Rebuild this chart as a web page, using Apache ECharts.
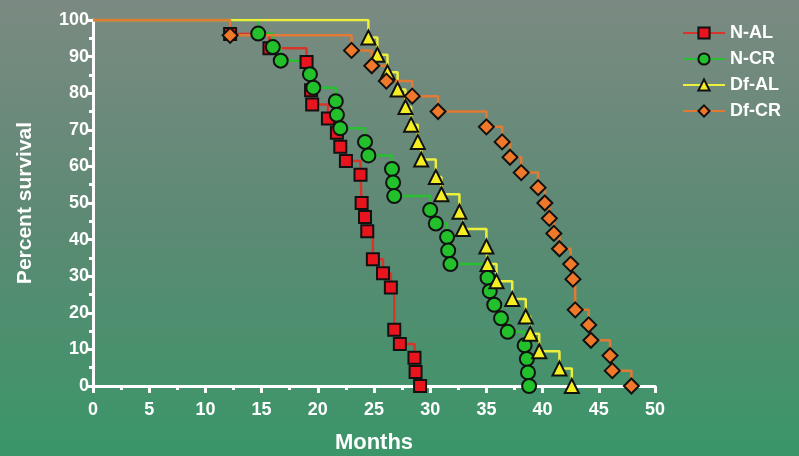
<!DOCTYPE html>
<html>
<head>
<meta charset="utf-8">
<script src="https://cdn.jsdelivr.net/npm/echarts@6/dist/echarts.min.js"></script>
<style>
  html, body { margin: 0; padding: 0; }
  #main { width: 799px; height: 456px; }
</style>
</head>
<body>
<div id="main"></div>
<script>
// survival data: [months, percent]
const nAL = [[0,100],[12.2,96.2],[15.7,92.3],[19.0,88.5],[19.4,80.8],[19.5,76.9],[20.9,73.1],[21.7,69.2],[22.0,65.4],[22.5,61.5],[23.8,57.7],[23.9,50.0],[24.2,46.2],[24.4,42.3],[24.9,34.6],[25.8,30.8],[26.5,26.9],[26.8,15.4],[27.3,11.5],[28.6,7.7],[28.7,3.8],[29.1,0]];
const nCR = [[0,100],[14.7,96.3],[16.0,92.6],[16.7,88.9],[19.3,85.2],[19.6,81.5],[21.6,77.8],[21.7,74.1],[22.0,70.4],[24.2,66.7],[24.5,63.0],[26.6,59.3],[26.7,55.6],[26.8,51.9],[30.0,48.1],[30.5,44.4],[31.5,40.7],[31.6,37.0],[31.8,33.3],[35.1,29.6],[35.3,25.9],[35.7,22.2],[36.3,18.5],[36.9,14.8],[38.4,11.1],[38.6,7.4],[38.7,3.7],[38.8,0]];
const dfAL = [[0,100],[24.5,95.2],[25.3,90.5],[26.2,85.7],[27.1,81.0],[27.8,76.2],[28.3,71.4],[28.9,66.7],[29.2,61.9],[30.5,57.1],[31.0,52.4],[32.6,47.6],[32.9,42.9],[35.0,38.1],[35.1,33.3],[35.9,28.6],[37.3,23.8],[38.5,19.0],[38.9,14.3],[39.7,9.5],[41.5,4.8],[42.6,0]];
const dfCR = [[0,100],[12.2,95.8],[23.0,91.7],[24.8,87.5],[26.1,83.3],[28.4,79.2],[30.7,75.0],[35.0,70.8],[36.4,66.7],[37.1,62.5],[38.1,58.3],[39.6,54.2],[40.2,50.0],[40.6,45.8],[41.0,41.7],[41.5,37.5],[42.5,33.3],[42.7,29.2],[42.9,20.8],[44.1,16.7],[44.3,12.5],[46.0,8.3],[46.2,4.2],[47.9,0]];

const names = ['N-AL', 'N-CR', 'Df-AL', 'Df-CR'];
const lineColors = ['#d8352a', '#28c030', '#ecef3c', '#e07a34'];
const fillColors = ['#e8141e', '#22c02a', '#f4ee22', '#f0782a'];
const symbols = ['rect', 'circle', 'triangle', 'diamond'];
const symbolSizes = [12, 14, 14, 15];

const font = '"Liberation Sans", Arial, sans-serif';

function makeSeries(i, data) {
    return {
        name: names[i],
        type: 'line',
        step: 'end',
        symbol: symbols[i],
        symbolSize: symbolSizes[i],
        showAllSymbol: true,
        animation: false,
        lineStyle: {color: lineColors[i], width: 2.5},
        itemStyle: {color: fillColors[i], borderColor: '#111', borderWidth: 2},
        data: data.map(function (p, k) {
            //no marker on the starting point
            return k === 0 ? {value: p, symbol: 'none'} : {value: p};
        })
    };
}

const myChart = echarts.init(document.getElementById('main'));
const option = {
    backgroundColor: new echarts.graphic.LinearGradient(0, 0, 0, 1, [
        {offset: 0, color: '#7b8a82'},
        {offset: 0.5, color: '#5c8a74'},
        {offset: 1, color: '#3a9668'}
    ]),
    textStyle: {fontFamily: font},
    grid: {left: 93, right: 144, top: 20, bottom: 70, outerBoundsMode: 'none'},
    legend: {
        orient: 'vertical',
        left: 677,
        top: 19,
        itemWidth: 42,
        itemHeight: 14,
        itemGap: 8,
        textStyle: {color: '#fff', fontSize: 18, fontWeight: 'bold', fontFamily: font},
        data: names
    },
    xAxis: {
        type: 'value',
        min: 0,
        max: 50,
        interval: 5,
        name: 'Months',
        nameLocation: 'middle',
        nameGap: 46,
        nameTextStyle: {color: '#fff', fontSize: 22, fontWeight: 'bold'},
        splitLine: {show: false},
        axisLine: {lineStyle: {color: '#fff', width: 3}},
        axisTick: {length: 7, lineStyle: {color: '#fff', width: 3}},
        minorTick: {show: true, splitNumber: 2, length: 4, lineStyle: {color: '#fff', width: 3}},
        axisLabel: {color: '#fff', fontSize: 18, fontWeight: 'bold', margin: 15}
    },
    yAxis: {
        type: 'value',
        min: 0,
        max: 100,
        interval: 10,
        name: 'Percent survival',
        nameLocation: 'middle',
        nameRotate: 90,
        nameGap: 57,
        nameTextStyle: {color: '#fff', fontSize: 21, fontWeight: 'bold'},
        splitLine: {show: false},
        axisLine: {show: true, lineStyle: {color: '#fff', width: 3}},
        axisTick: {show: true, length: 7, lineStyle: {color: '#fff', width: 3}},
        minorTick: {show: true, splitNumber: 2, length: 4, lineStyle: {color: '#fff', width: 3}},
        axisLabel: {color: '#fff', fontSize: 18, fontWeight: 'bold', margin: 4}
    },
    series: [
        makeSeries(0, nAL),
        makeSeries(1, nCR),
        makeSeries(2, dfAL),
        makeSeries(3, dfCR)
    ]
};
myChart.setOption(option);
</script>
</body>
</html>
